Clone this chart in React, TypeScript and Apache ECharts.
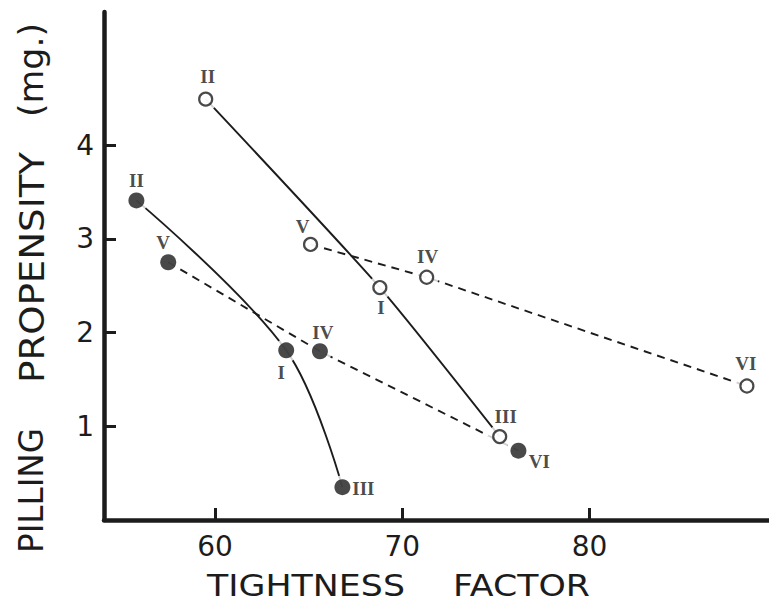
import React, { useEffect, useRef } from "react";
import * as echarts from "echarts";

// ---- data ----
const openSolidNames = ["II", "I", "III"];
const openSolidX = [59.5, 68.8, 75.2];
const openSolidY = [4.49, 2.48, 0.89];

const openDashedNames = ["V", "IV", "VI"];
const openDashedX = [65.1, 71.3, 88.4];
const openDashedY = [2.94, 2.59, 1.43];

const filledSolidNames = ["II", "I", "III"];
const filledSolidX = [55.8, 63.8, 66.8];
const filledSolidY = [3.41, 1.81, 0.35];

const filledDashedNames = ["V", "IV", "VI"];
const filledDashedX = [57.5, 65.6, 76.2];
const filledDashedY = [2.75, 1.8, 0.74];

const xTicks = [60, 70, 80];
const yTicks = [1, 2, 3, 4];

const xTitleWords = ["TIGHTNESS", "FACTOR"];
const yTitleWords = ["PILLING", "PROPENSITY", "(mg.)"];

// ---- layout (label offsets in px, relative to marker centre) ----
const openSolidLabelOffsets = [[2, -23], [1, 20], [6, -20]];
const openDashedLabelOffsets = [[-8, -18], [1, -21], [-1, -22]];
const filledSolidLabelOffsets = [[0, -20], [-5, 22], [21, 1]];
const filledDashedLabelOffsets = [[-5, -20], [3, -19], [21, 11]];

const INK = "#1c1c1c";
const SANS = "DejaVu Sans";
const SERIF = "Liberation Serif";

function measure(text: string, size: number, family: string) {
  const c = document.createElement("canvas").getContext("2d");
  if (!c) return text.length * size * 0.6;
  c.font = `${size}px "${family}"`;
  return c.measureText(text).width;
}

function pts(xs: number[], ys: number[]) {
  return xs.map((x, i) => [x, ys[i]]);
}

function labelled(xs: number[], ys: number[], names: string[], offs: number[][]) {
  return xs.map((x, i) => ({
    name: names[i],
    value: [x, ys[i]],
    label: {
      show: true,
      position: "inside",
      offset: offs[i],
      formatter: "{b}",
      fontFamily: SERIF,
      fontWeight: "bold",
      fontSize: 19,
      color: INK,
    },
  }));
}

function lineSeries(xs: number[], ys: number[], dashed: boolean, smooth: number | boolean) {
  return {
    type: "line",
    data: pts(xs, ys),
    symbol: "none",
    showSymbol: false,
    smooth,
    silent: true,
    z: 2,
    lineStyle: { color: INK, width: 1.9, type: dashed ? [8, 6] : "solid" },
  };
}

function stretchedText(
  text: string,
  cx: number,
  cy: number,
  size: number,
  target: number,
  vertical: boolean
) {
  const w = measure(text, size, SANS);
  const s = w > 0 ? target / w : 1;
  return {
    type: "text",
    x: cx,
    y: cy,
    rotation: vertical ? Math.PI / 2 : 0,
    scaleX: s,
    silent: true,
    style: {
      text,
      fontSize: size,
      fontFamily: SANS,
      fill: INK,
      textAlign: "center",
      textVerticalAlign: "middle",
      verticalAlign: "middle",
    },
  };
}

export default function App() {
  const ref = useRef<HTMLDivElement>(null);

  useEffect(() => {
    if (!ref.current) return;
    const chart = echarts.init(ref.current, null, { renderer: "svg" });

    const allX = [...openSolidX, ...openDashedX, ...filledSolidX, ...filledDashedX];
    const allY = [...openSolidY, ...openDashedY, ...filledSolidY, ...filledDashedY];

    const option: any = {
      animation: false,
      backgroundColor: "#ffffff",
      grid: { left: 104, right: 0, top: 12, bottom: 90 },
      xAxis: {
        type: "value",
        min: 54.07,
        max: 89.58,
        splitLine: { show: false },
        axisLine: { show: true, lineStyle: { color: INK, width: 4.5 } },
        axisTick: {
          show: true,
          inside: true,
          length: 12,
          customValues: xTicks,
          lineStyle: { color: INK, width: 3 },
        },
        axisLabel: {
          customValues: xTicks,
          margin: 12,
          fontFamily: SANS,
          fontSize: 28,
          color: INK,
        },
      },
      yAxis: {
        type: "value",
        min: 0,
        max: 5.42,
        splitLine: { show: false },
        axisLine: { show: true, lineStyle: { color: INK, width: 4.5 } },
        axisTick: {
          show: true,
          inside: true,
          length: 12,
          customValues: yTicks,
          lineStyle: { color: INK, width: 3 },
        },
        axisLabel: {
          customValues: yTicks,
          margin: 10,
          fontFamily: SANS,
          fontSize: 28,
          color: INK,
        },
      },
      series: [
        lineSeries(openSolidX, openSolidY, false, 0.2),
        lineSeries(filledSolidX, filledSolidY, false, 0.35),
        lineSeries(openDashedX, openDashedY, true, false),
        lineSeries(filledDashedX, filledDashedY, true, false),
        {
          type: "scatter",
          data: pts(allX, allY),
          symbol: "circle",
          symbolSize: 24,
          silent: true,
          z: 3,
          itemStyle: { color: "#ffffff" },
        },
        {
          type: "scatter",
          data: [
            ...labelled(openSolidX, openSolidY, openSolidNames, openSolidLabelOffsets),
            ...labelled(openDashedX, openDashedY, openDashedNames, openDashedLabelOffsets),
          ],
          symbol: "circle",
          symbolSize: 13,
          z: 4,
          itemStyle: { color: "#ffffff", borderColor: INK, borderWidth: 2.2 },
        },
        {
          type: "scatter",
          data: [
            ...labelled(filledSolidX, filledSolidY, filledSolidNames, filledSolidLabelOffsets),
            ...labelled(filledDashedX, filledDashedY, filledDashedNames, filledDashedLabelOffsets),
          ],
          symbol: "circle",
          symbolSize: 16,
          z: 4,
          itemStyle: { color: INK },
        },
      ],
      graphic: [
        stretchedText(yTitleWords[0], 32, 490.5, 33, 125, true),
        stretchedText(yTitleWords[1], 32, 267.5, 33, 231, true),
        stretchedText(yTitleWords[2], 32, 70, 33, 94, true),
        stretchedText(xTitleWords[0], 306, 586, 30, 198, false),
        stretchedText(xTitleWords[1], 521.5, 586, 30, 137, false),
      ],
    };

    chart.setOption(option);
    return () => chart.dispose();
  }, []);

  return (
    <div
      ref={ref}
      style={{ position: "absolute", left: 0, top: 0, width: 769, height: 610 }}
    />
  );
}
